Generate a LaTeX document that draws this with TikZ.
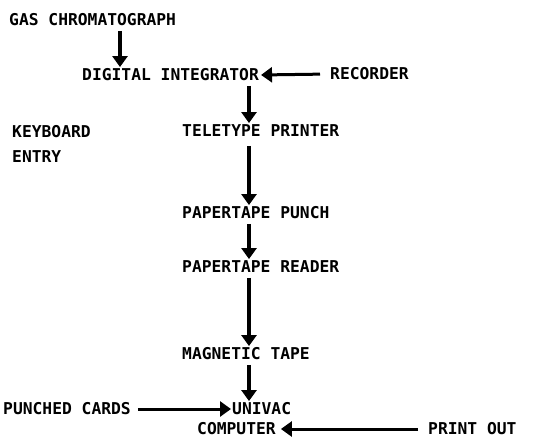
\documentclass[tikz,border=0pt]{standalone}
\usepackage{fontspec}
\setmonofont{DejaVu Sans Mono}
\usetikzlibrary{arrows.meta}

\begin{document}
\begin{tikzpicture}[x=1pt,y=-1pt,>={Triangle[width=15pt,length=11pt]},
  lbl/.style={anchor=west,inner sep=0pt,text height=11.5pt,text depth=0pt,
    font=\ttfamily\bfseries\fontsize{16.3}{17}\selectfont},
  flow/.style={->,line width=3.5pt,shorten <=5pt,shorten >=2pt},
  hflow/.style={->,line width=3pt,shorten <=10pt,shorten >=2pt}]
  \useasboundingbox (0,0) rectangle (551,440);
  \node[lbl] (gas) at (9,20) {GAS CHROMATOGRAPH};
  \node[lbl] (dig) at (82,75) {DIGITAL INTEGRATOR};
  \node[lbl] (rec) at (330,74) {RECORDER};
  \node[lbl] (key) at (12,132) {KEYBOARD};
  \node[lbl] (ent) at (12,157) {ENTRY};
  \node[lbl] (tele) at (182,131) {TELETYPE PRINTER};
  \node[lbl] (punch) at (182,213) {PAPERTAPE PUNCH};
  \node[lbl] (read) at (182,267) {PAPERTAPE READER};
  \node[lbl] (mag) at (182,354) {MAGNETIC TAPE};
  \node[lbl] (cards) at (3,409) {PUNCHED CARDS};
  \node[lbl] (univ) at (232,409) {UNIVAC};
  \node[lbl] (comp) at (197,429) {COMPUTER};
  \node[lbl] (print) at (428,429) {PRINT OUT};
  \coordinate (c1) at (120,0);
  \coordinate (c2) at (249,0);
  \draw[flow] (gas.south -| c1) -- (dig.north -| c1);
  \draw[hflow] (rec.west) -- (dig.east);
  \draw[flow] (dig.south -| c2) -- (tele.north -| c2);
  \draw[flow,shorten <=9pt] (tele.south -| c2) -- (punch.north -| c2);
  \draw[flow] (punch.south -| c2) -- (read.north -| c2);
  \draw[flow] (read.south -| c2) -- (mag.north -| c2);
  \draw[flow] (mag.south -| c2) -- (univ.north -| c2);
  \draw[hflow,shorten <=7pt,shorten >=1pt] (cards.east) -- (univ.west);
  \draw[hflow,shorten >=5pt] (print.west) -- (comp.east);
\end{tikzpicture}
\end{document}
